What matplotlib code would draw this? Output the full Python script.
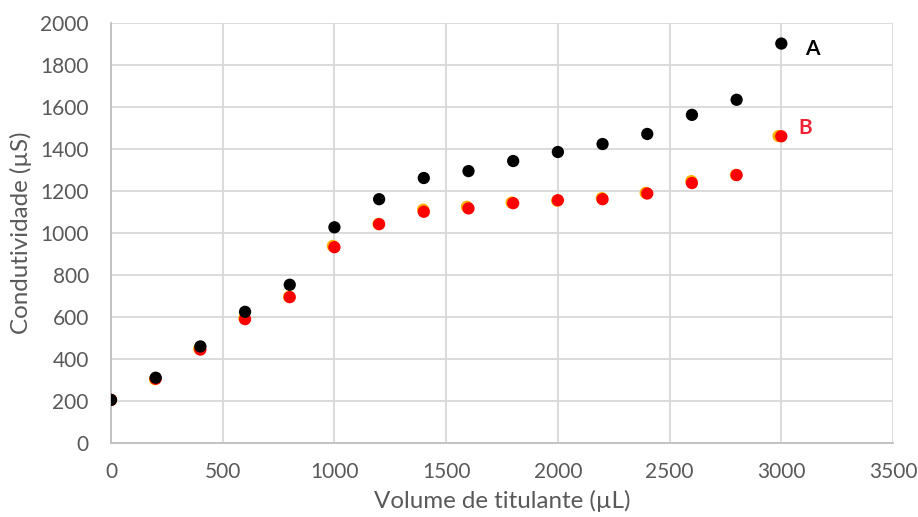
import matplotlib
matplotlib.use("Agg")
import matplotlib.pyplot as plt

volume = [0, 200, 400, 600, 800, 1000, 1200, 1400, 1600, 1800, 2000, 2200, 2400, 2600, 2800, 3000]
serie_a = [203, 309, 458, 623, 752, 1026, 1160, 1261, 1294, 1342, 1385, 1423, 1471, 1562, 1634, 1902]
volume_laranja = [0, 197, 395, 597, 797, 993, 1197, 1397, 1593, 1793, 1997, 2197, 2393, 2597, 2797, 2988]
serie_laranja = [203, 302, 447, 593, 695, 937, 1042, 1110, 1124, 1144, 1153, 1165, 1190, 1246, 1276, 1461]
serie_b = [203, 304, 443, 588, 693, 931, 1041, 1100, 1116, 1141, 1155, 1160, 1187, 1237, 1275, 1460]

x_ticks = [0, 500, 1000, 1500, 2000, 2500, 3000, 3500]
y_ticks = [0, 200, 400, 600, 800, 1000, 1200, 1400, 1600, 1800, 2000]

plt.rcParams['font.family'] = ['Lato', 'DejaVu Sans']

fig = plt.figure(figsize=(9.18, 5.17), dpi=100)
ax = fig.add_axes([0.1209, 0.1441, 0.9728 - 0.1209, 0.9555 - 0.1441])

ax.scatter(volume_laranja, serie_laranja, s=78, color='#FFB000', edgecolors='none', zorder=3)
ax.scatter(volume, serie_b, s=78, color='#FF0000', edgecolors='none', zorder=4)
ax.scatter(volume, serie_a, s=78, color='#000000', edgecolors='none', zorder=5)

ax.text(3141, 1875, 'A', color='#000000', fontsize=15, fontweight='bold', ha='center', va='center')
ax.text(3105, 1500, 'B', color='#EE2233', fontsize=15, fontweight='bold', ha='center', va='center')

ax.set_xlim(0, 3500)
ax.set_ylim(0, 2000)
ax.set_xticks(x_ticks)
ax.set_yticks(y_ticks)
ax.set_xticklabels([str(v) for v in x_ticks])
ax.set_yticklabels([str(v) for v in y_ticks])
ax.grid(True, color='#D9D9D9', linewidth=1.3)
ax.set_axisbelow(True)
for side in ['top', 'right']:
    ax.spines[side].set_visible(False)
for side in ['left', 'bottom']:
    ax.spines[side].set_color('#BFBFBF')
    ax.spines[side].set_linewidth(1.3)
ax.tick_params(axis='both', length=0, labelsize=15, colors='#595959')
ax.tick_params(axis='x', pad=14)
ax.tick_params(axis='y', pad=16)

ax.set_xlabel('Volume de titulante (µL)', fontsize=17.4, color='#595959', labelpad=6)
ax.set_ylabel('Condutividade (µS)', fontsize=17.4, color='#595959', labelpad=6)

fig.savefig('out.png', dpi=100, facecolor='white')
